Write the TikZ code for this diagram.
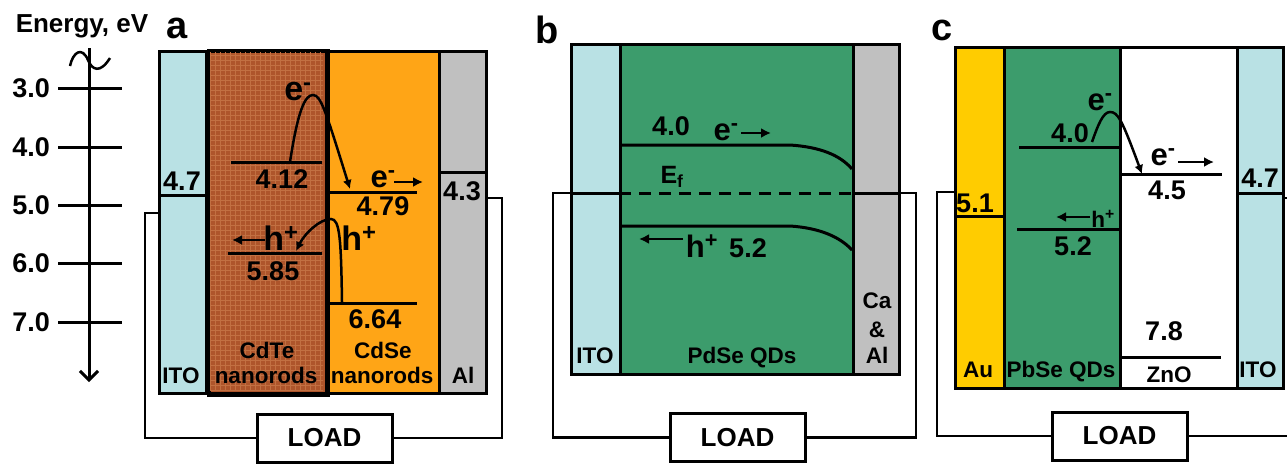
\documentclass[tikz,border=0pt]{standalone}
\usepackage{fontspec}
\setmainfont{Liberation Sans}
\usetikzlibrary{arrows.meta}
\definecolor{itoblue}{HTML}{B9E1E4}
\definecolor{cdte}{HTML}{AE552B}
\definecolor{cdtegrid}{HTML}{C27042}
\definecolor{cdse}{HTML}{FFA516}
\definecolor{metal}{HTML}{C0C0C0}
\definecolor{qdgreen}{HTML}{3C9C6C}
\definecolor{gold}{HTML}{FFCC00}
\tikzset{
 layer/.style={draw=black, line width=3pt, rectangle, inner sep=0pt, anchor=north west},
 lvl/.style={line width=3pt},
 wire/.style={line width=2.5pt},
 loadbox/.style={draw, line width=3pt, rectangle, inner sep=0pt, minimum width=135pt, minimum height=48pt, font=\fontsize{26}{30}\selectfont\bfseries, fill=white},
 lbl/.style={inner sep=0pt, anchor=base, font=\fontsize{27}{32}\selectfont\bfseries},
 sml/.style={inner sep=0pt, anchor=base, font=\fontsize{22.5}{27}\selectfont\bfseries},
 big/.style={inner sep=0pt, anchor=base, font=\fontsize{34}{40}\selectfont\bfseries},
 mid/.style={inner sep=0pt, anchor=base, font=\fontsize{31}{36}\selectfont\bfseries},
 panel/.style={inner sep=0pt, anchor=base, font=\fontsize{38}{44}\selectfont\bfseries},
 carrow/.style={line width=2.8pt, -{Latex[length=10pt,width=10pt]}},
}
\newcommand{\esup}{e\textsuperscript{-}}
\newcommand{\hsup}{h\textsuperscript{+}}
\begin{document}
\begin{tikzpicture}[x=1pt,y=-1pt]
\useasboundingbox (0,0) rectangle (1287,464);

% ---------- energy axis ----------
\node[lbl, font=\fontsize{26}{30}\selectfont\bfseries] (energy) at (82,32) {Energy, eV};
\node[panel] (pa) at (177,38) {a};
\draw[line width=3pt, -{Straight Barb[length=9pt,width=18pt]}] (89,48) -- (89,382);
\draw[line width=2.5pt] (70,66) .. controls (73,52) and (82,46) .. (88,60) .. controls (92,70) and (100,74) .. (110,58);
\foreach \v/\yy in {3.0/88,4.0/147,5.0/205,6.0/263,7.0/322}{
  \draw[line width=3pt] (58,\yy) -- (122,\yy);
  \node[lbl, anchor=base east] at (50,\yy+9.5) {\v};
}

% ---------- panel a ----------
\node[layer, fill=itoblue, minimum width=47pt, minimum height=342pt] (itoA) at (158,50) {};
\node[layer, fill=cdte, minimum width=117pt, minimum height=342pt] (cdteA) at (208,50) {};
\begin{scope}
  \clip (210,52) rectangle (323,390);
  \draw[cdtegrid, line width=0.9pt, step=5pt] (205,45) grid (330,395);
\end{scope}
\node[layer, fill=cdse, minimum width=113pt, minimum height=342pt] (cdseA) at (325,50) {};
\node[layer, fill=metal, minimum width=47pt, minimum height=342pt] (alA) at (438,50) {};
\draw[line width=3pt] (cdteA.north west) rectangle (cdteA.south east);
\draw[lvl] (158,195) -- (205,195);
\draw[lvl] (438,172) -- (485,172);
\draw[lvl] (231,162) -- (322,162);
\draw[lvl] (325,192) -- (417,192);
\draw[lvl] (228,253) -- (322,253);
\draw[lvl] (325,303) -- (417,303);
\node[lbl] (a47) at (182,190) {4.7};
\node[lbl] (a43) at (462,200) {4.3};
\node[lbl] (a412) at (282,188) {4.12};
\node[lbl] (a479) at (383,215) {4.79};
\node[lbl] (a585) at (273,280) {5.85};
\node[lbl] (a664) at (375,328) {6.64};
\node[big] (eA1) at (298,100) {\esup};
\node[mid] (eA2) at (383,187) {\esup};
\node[big] (hA1) at (281,250) {\hsup};
\node[big] (hA2) at (359,250) {\hsup};
\draw[carrow] (394,182) -- (423,182);
\draw[carrow] (265,240) -- (232,240);
\draw[line width=2.5pt, -{Latex[length=9pt,width=9pt]}] (290,162) .. controls (298,110) and (305,95) .. (313,95) .. controls (321,95) and (326,112) .. (350,189);
\draw[line width=2.5pt, -{Latex[length=9pt,width=9pt]}] (342,302) .. controls (341,240) and (340,219) .. (331,219) .. controls (320,219) and (305,233) .. (296,251);
\node[sml] (itoAl) at (181,383) {ITO};
\node[sml] (cdteL1) at (267,358) {CdTe};
\node[sml] (cdteL2) at (266,383) {nanorods};
\node[sml] (cdseL1) at (383,358) {CdSe};
\node[sml] (cdseL2) at (382,383) {nanorods};
\node[sml] (alAl) at (463,383) {Al};
\node[loadbox] (loadA) at (324.5,438) {LOAD};
\coordinate (wA1) at (145,213);
\coordinate (wA2) at (502,198);
\draw[wire] (itoA.west |- wA1) -- (wA1) |- (loadA.west);
\draw[wire] (alA.east |- wA2) -- (wA2) |- (loadA.east);

% ---------- panel b ----------
\node[panel] (pb) at (547,43) {b};
\node[layer, fill=itoblue, minimum width=49pt, minimum height=330pt] (itoB) at (570,43) {};
\node[layer, fill=qdgreen, minimum width=233pt, minimum height=330pt] (qdB) at (619,43) {};
\node[layer, fill=metal, minimum width=46pt, minimum height=330pt] (caB) at (852,43) {};
\draw[lvl] (622,145) -- (790,145) .. controls (820,147) and (840,155) .. (852,169);
\draw[lvl] (622,226) -- (790,226) .. controls (820,228) and (840,237) .. (852,250);
\draw[lvl] (570,193) -- (619,193);
\draw[lvl, dash pattern=on 12pt off 8pt] (619,193) -- (852,193);
\draw[lvl] (852,193) -- (898,193);
\node[lbl] (b40) at (671,135) {4.0};
\node[mid] (eB) at (726,140) {\esup};
\draw[carrow] (741,133) -- (771,133);
\node[lbl, font=\fontsize{25}{30}\selectfont\bfseries] (efB) at (672,183) {E\textsubscript{f}};
\node[mid] (hB) at (702,257) {\hsup};
\draw[carrow] (683,239) -- (639,239);
\node[lbl] (b52) at (748,257) {5.2};
\node[sml] (itoBl) at (595,363) {ITO};
\node[sml] (qdBl) at (742,363) {PdSe QDs};
\node[sml] (caBl1) at (877,308) {Ca};
\node[sml] (caBl2) at (877,337) {\&};
\node[sml] (caBl3) at (877,363) {Al};
\node[loadbox] (loadB) at (737.5,437.5) {LOAD};
\coordinate (wB1) at (553,193);
\coordinate (wB2) at (916,193);
\draw[wire] (itoB.west |- wB1) -- (wB1) |- (loadB.west);
\draw[wire] (caB.east |- wB2) -- (wB2) |- (loadB.east);

% ---------- panel c ----------
\node[panel] (pc) at (942,40) {c};
\node[layer, fill=gold, minimum width=49pt, minimum height=341pt] (auC) at (954,46) {};
\node[layer, fill=qdgreen, minimum width=116pt, minimum height=341pt] (qdC) at (1003,46) {};
\node[layer, fill=white, minimum width=117pt, minimum height=341pt] (znC) at (1119,46) {};
\node[layer, fill=itoblue, minimum width=46pt, minimum height=341pt] (itoC) at (1236,46) {};
\draw[lvl] (954,216) -- (1003,216);
\draw[lvl] (1236,193) -- (1282,193);
\draw[lvl] (1019,147) -- (1119,147);
\draw[lvl] (1119,174) -- (1222,174);
\draw[lvl] (1017,229) -- (1119,229);
\draw[lvl] (1119,357) -- (1221,357);
\node[lbl] (c51) at (975,212) {5.1};
\node[lbl] (c47) at (1260,187) {4.7};
\node[mid] (eC1) at (1100,110) {\esup};
\node[lbl] (c40) at (1070,142) {4.0};
\node[mid] (eC2) at (1163,165) {\esup};
\draw[carrow] (1178,162) -- (1214,162);
\node[lbl] (c45) at (1167,199) {4.5};
\node[sml] (hC) at (1103,227) {\hsup};
\draw[carrow] (1090,217) -- (1056,217);
\node[lbl] (c52) at (1073,255) {5.2};
\node[lbl] (c78) at (1164,340) {7.8};
\draw[line width=2.5pt, -{Latex[length=9pt,width=9pt]}] (1092,142) .. controls (1098,125) and (1103,112) .. (1110,112) .. controls (1118,112) and (1122,120) .. (1142,174);
\node[sml] (auCl) at (978,377) {Au};
\node[sml] (qdCl) at (1061,377) {PbSe QDs};
\node[sml] (znCl) at (1169,382) {ZnO};
\node[sml] (itoCl) at (1258,377) {ITO};
\node[loadbox] (loadC) at (1119.5,436) {LOAD};
\coordinate (wC1) at (937,192);
\coordinate (wC2) at (1287,436);
\coordinate (wC3) at (1287,198);
\draw[wire] (auC.west |- wC1) -- (wC1) |- (loadC.west);
\draw[wire] (loadC.east) -- (wC2);
\draw[wire] (itoC.east |- wC3) -- (wC3);
\end{tikzpicture}
\end{document}
